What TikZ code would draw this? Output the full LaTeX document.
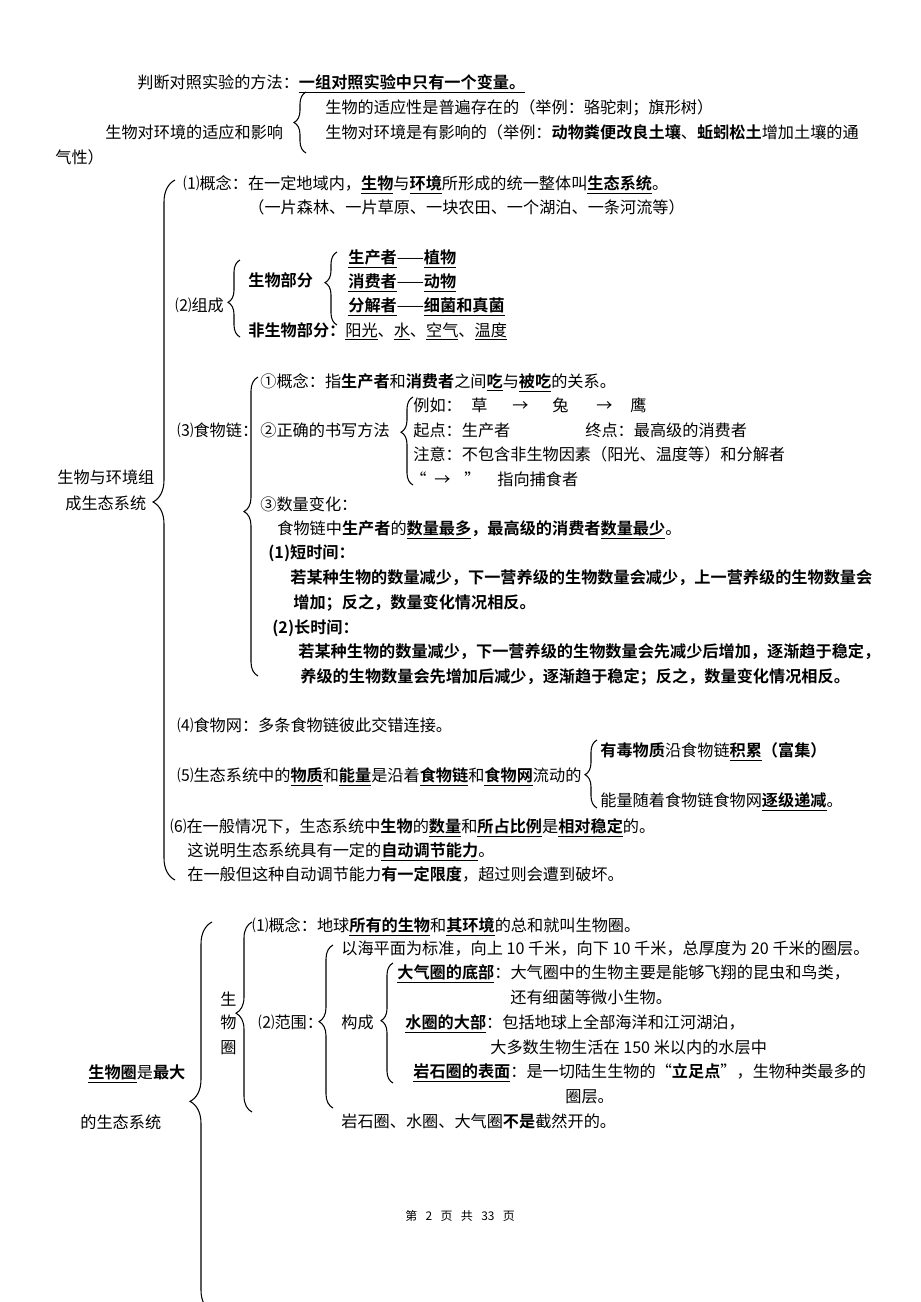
\documentclass[tikz,border=0pt]{standalone}
\usepackage{fontspec}
\setmainfont{Noto Sans CJK SC}[BoldFont=* Bold]
\usetikzlibrary{decorations.pathreplacing}

\newcommand\uln[1]{\underline{#1}}
\newcommand\bul[1]{\underline{\textbf{#1}}}
% curly brace: x of tips, top, bottom, aspect, amplitude (px)
\newcommand\cbrace[5]{\draw[brc, decoration={brace, aspect=#4, amplitude=#5*0.02cm}] (#1,#3) -- (#1,#2);}

\tikzset{
	txt/.style={anchor=base west, inner sep=0pt, font=\fontsize{9.2pt}{11pt}\selectfont},
	brc/.style={decorate, line width=0.6pt},
}

\begin{document}
\begin{tikzpicture}[x=0.02cm, y=-0.02cm]
	%	page
	\useasboundingbox[fill=white] (0,0) rectangle (920,1302);
	
	%	top lines
	\node[txt] (judge) at (137,88) {判断对照实验的方法：\bul{一组对照实验中只有一个变量。}};
	\node[txt] (adapt) at (105,138) {生物对环境的适应和影响};
	\cbrace{306}{92}{153}{0.5}{12}
	\node[txt] (adaptA) at (325,113) {生物的适应性是普遍存在的（举例：骆驼刺；旗形树）};
	\node[txt] (adaptB) at (325,138) {生物对环境是有影响的（举例：\textbf{动物粪便改良土壤}、\textbf{蚯蚓松土}增加土壤的通};
	\node[txt] (adaptC) at (55,163) {气性）};
	
	%	ecosystem
	\node[txt] (eco) at (57,483) {生物与环境组};
	\node[txt] (ecoB) at (65,509) {成生态系统};
	\cbrace{175}{180}{880}{0.54}{22}
	
	\node[txt] (def) at (183,189) {⑴概念：在一定地域内，\bul{生物}与\bul{环境}所形成的统一整体叫\bul{生态系统}。};
	\node[txt] (defB) at (248,213) {（一片森林、一片草原、一块农田、一个湖泊、一条河流等）};
	
	%	composition
	\node[txt] (comp) at (175,311) {⑵组成};
	\cbrace{240}{260}{337}{0.45}{12}
	\node[txt] (bio) at (248,286) {\textbf{生物部分}};
	\node[txt] (abio) at (248,336) {\textbf{非生物部分：}\uln{阳光}、\uln{水}、\uln{空气}、\uln{温度}};
	\cbrace{337}{252}{325}{0.58}{12}
	\node[txt] (prod) at (348,263) {\bul{生产者}——\bul{植物}};
	\node[txt] (cons) at (348,287) {\bul{消费者}——\bul{动物}};
	\node[txt] (deco) at (348,311) {\bul{分解者}——\bul{细菌和真菌}};
	
	%	food chain
	\node[txt] (chain) at (177,436) {⑶食物链：};
	\cbrace{258}{377}{676}{0.55}{14}
	\node[txt] (chA) at (260,387) {①概念：指\textbf{生产者}和\textbf{消费者}之间\bul{吃}与\bul{被吃}的关系。};
	\node[txt] (chB) at (260,436) {②正确的书写方法};
	\cbrace{413}{397}{485}{0.6}{12}
	\node[txt] (eg) at (413,411) {例如：};
	\node[txt] (grass) at (471,411) {草};
	\node[txt] (arA) at (512,411) {→};
	\node[txt] (rabbit) at (552,411) {兔};
	\node[txt] (arB) at (596,411) {→};
	\node[txt] (hawk) at (630,411) {鹰};
	\node[txt] (start) at (413,436) {起点：生产者};
	\node[txt] (end) at (585,436) {终点：最高级的消费者};
	\node[txt] (note) at (413,460) {注意：不包含非生物因素（阳光、温度等）和分解者};
	\node[txt] (qA) at (410,485) {“};
	\node[txt] (arC) at (434,485) {→};
	\node[txt] (qB) at (464,485) {”};
	\node[txt] (pred) at (497,485) {指向捕食者};
	\node[txt] (chC) at (260,510) {③数量变化：};
	\node[txt] (most) at (277,534) {食物链中\textbf{生产者}的\bul{数量最多}\textbf{，最高级的消费者}\bul{数量最少}。};
	\node[txt] (short) at (268,558) {\textbf{(1)短时间：}};
	\node[txt] (shA) at (290,583) {\textbf{若某种生物的数量减少，下一营养级的生物数量会减少，上一营养级的生物数量会}};
	\node[txt] (shB) at (293,608) {\textbf{增加；反之，数量变化情况相反。}};
	\node[txt] (long) at (272,633) {\textbf{(2)长时间：}};
	\node[txt] (loA) at (298,657) {\textbf{若某种生物的数量减少，下一营养级的生物数量会先减少后增加，逐渐趋于稳定，}};
	\node[txt] (loB) at (300,682) {\textbf{养级的生物数量会先增加后减少，逐渐趋于稳定；反之，数量变化情况相反。}};
	
	%	food web, flow
	\node[txt] (web) at (177,731) {⑷食物网：多条食物链彼此交错连接。};
	\node[txt] (flow) at (177,781) {⑸生态系统中的\bul{物质}和\bul{能量}是沿着\bul{食物链}和\bul{食物网}流动的};
	\cbrace{597}{740}{808}{0.49}{12}
	\node[txt] (toxic) at (600,756) {\textbf{有毒物质}沿食物链\bul{积累}\textbf{（富集）}};
	\node[txt] (energy) at (600,806) {能量随着食物链食物网\bul{逐级递减}。};
	
	%	stability
	\node[txt] (stab) at (170,832) {⑹在一般情况下，生态系统中\textbf{生物}的\bul{数量}和\bul{所占比例}是\bul{相对稳定}的。};
	\node[txt] (self) at (187,856) {这说明生态系统具有一定的\bul{自动调节能力}。};
	\node[txt] (limit) at (187,880) {在一般但这种自动调节能力\textbf{有一定限度}，超过则会遭到破坏。};
	
	%	biosphere
	\node[txt] (bsA) at (88,1078) {\bul{生物圈}是\textbf{最大}};
	\node[txt] (bsB) at (80,1128) {的生态系统};
	\cbrace{212}{922}{1312}{0.54}{22}
	\node[txt] (vA) at (220,1005) {生};
	\node[txt] (vB) at (220,1028) {物};
	\node[txt] (vC) at (220,1053) {圈};
	\cbrace{252}{922}{1112}{0.52}{16}
	\node[txt] (bsDef) at (252,931) {⑴概念：地球\bul{所有的生物}和\bul{其环境}的总和就叫生物圈。};
	\node[txt] (range) at (258,1028) {⑵范围：};
	\cbrace{333}{945}{1108}{0.53}{14}
	\node[txt] (sea) at (341,954) {以海平面为标准，向上 10 千米，向下 10 千米，总厚度为 20 千米的圈层。};
	\node[txt] (form) at (341,1028) {构成};
	\cbrace{393}{963}{1083}{0.52}{12}
	\node[txt] (atm) at (397,978) {\bul{大气圈的底部}：大气圈中的生物主要是能够飞翔的昆虫和鸟类，};
	\node[txt] (atmB) at (510,1003) {还有细菌等微小生物。};
	\node[txt] (hyd) at (405,1028) {\bul{水圈的大部}：包括地球上全部海洋和江河湖泊，};
	\node[txt] (hydB) at (490,1053) {大多数生物生活在 150 米以内的水层中};
	\node[txt] (lit) at (413,1077) {\bul{岩石圈的表面}：是一切陆生生物的“\textbf{立足点}”，生物种类最多的};
	\node[txt] (litB) at (565,1102) {圈层。};
	\node[txt] (nsep) at (341,1127) {岩石圈、水圈、大气圈\textbf{不是}截然开的。};
	
	%	footer
	\def\gap{\hspace{0.7em}}
	\node[txt, font=\fontsize{6.8pt}{8pt}\selectfont] (page) at (405,1220) {第\gap 2\gap 页\gap 共\gap 33\gap 页};
\end{tikzpicture}
\end{document}
